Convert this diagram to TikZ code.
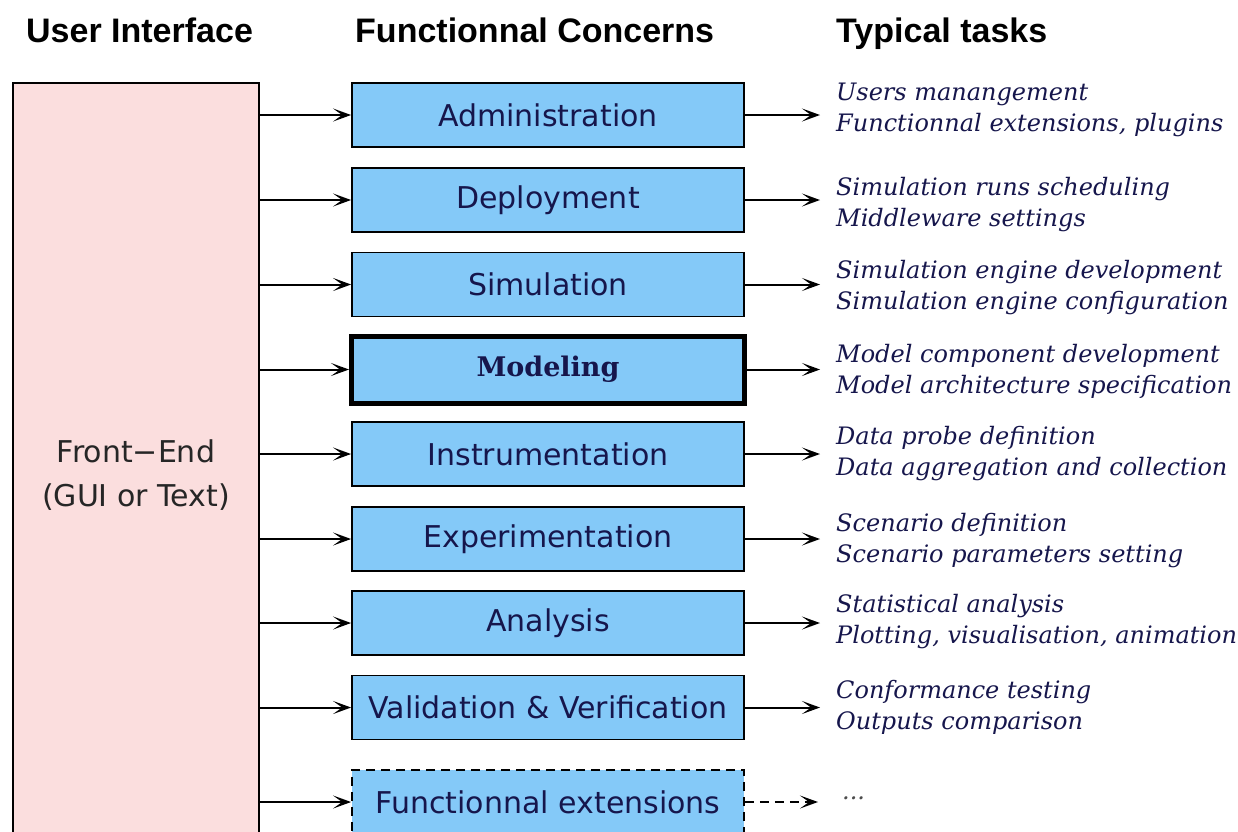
\documentclass[tikz,border=0pt]{standalone}
\usepackage{fontspec}
\setmainfont{DejaVu Sans}
\newfontfamily\taskfont{DejaVu Serif}
\newfontfamily\headfont{Liberation Sans}
\usetikzlibrary{arrows.meta}
\definecolor{concernblue}{HTML}{84C9F8}
\definecolor{uipink}{HTML}{FBDEDE}
\definecolor{inkblue}{HTML}{16164C}

\begin{document}
\begin{tikzpicture}[x=1pt,y=-1pt,
  header/.style={font=\fontsize{34}{40}\selectfont\headfont\bfseries, anchor=base west, inner sep=0},
  concern/.style={draw, line width=1.8pt, fill=concernblue, minimum width=392pt,
    minimum height=64pt, inner sep=0, text=inkblue, font=\fontsize{30}{36}\selectfont},
  tasks/.style={anchor=west, align=left, text=inkblue, inner sep=0,
    font=\fontsize{24}{31}\selectfont\taskfont\itshape},
  link/.style={line width=2pt, -{Stealth[length=18pt,width=13pt,inset=9pt]}},
  outlink/.style={link, shorten >=16pt},
]
\useasboundingbox (0,0) rectangle (1238,831);
\clip (0,0) rectangle (1238,831);
\fill[white] (0,0) rectangle (1238,831);

% column headers
\node[header] (hui) at (26,42) {User Interface};
\node[header] (hfc) at (355,42) {Functionnal Concerns};
\node[header] (htt) at (836,42) {Typical tasks};

% front-end column
\node[draw, line width=1.8pt, fill=uipink, minimum width=246pt, minimum height=800pt,
  anchor=north west, inner sep=0] (ui) at (12,82) {};
\node[align=center, inner sep=0, text=black!85, font=\fontsize{30}{44}\selectfont] (uilabel)
  at (136,475) {Front−End\\(GUI or Text)};

% functional concerns
\node[concern] (adm) at (548,115) {Administration};
\node[concern] (dep) at (548,200) {Deployment};
\node[concern] (sim) at (548,284.5) {Simulation};
\node[concern, line width=5pt, minimum width=393pt, minimum height=67pt,
  font=\fontsize{27}{30}\selectfont\taskfont\bfseries] (mod) at (548,369.5) {Modeling};
\node[concern] (ins) at (548,454) {Instrumentation};
\node[concern] (exp) at (548,539) {Experimentation};
\node[concern] (ana) at (548,623) {Analysis};
\node[concern] (val) at (548,707.5) {Validation \& Verification};
\node[concern, dashed, dash pattern=on 9pt off 6pt] (ext) at (548,802) {Functionnal extensions};

% typical tasks
\node[tasks] (tadm) at (836,110) {Users manangement\\Functionnal extensions, plugins};
\node[tasks] (tdep) at (836,205) {Simulation runs scheduling\\Middleware settings};
\node[tasks] (tsim) at (836,288) {Simulation engine development\\Simulation engine configuration};
\node[tasks] (tmod) at (836,371.5) {Model component development\\Model architecture specification};
\node[tasks] (tins) at (836,454) {Data probe definition\\Data aggregation and collection};
\node[tasks] (texp) at (836,541) {Scenario definition\\Scenario parameters setting};
\node[tasks] (tana) at (836,622) {Statistical analysis\\Plotting, visualisation, animation};
\node[tasks] (tval) at (836,707) {Conformance testing\\Outputs comparison};
\node[tasks, text=black!70] (text) at (842,798) {...};

% front-end to concerns
\foreach \c in {adm,dep,sim,mod,ins,exp,ana,val,ext}
  \draw[link] (ui.east |- \c.west) -- (\c.west);

% concerns to tasks
\draw[outlink] (adm.east) -- (adm.east -| tadm.west);
\draw[outlink] (dep.east) -- (dep.east -| tdep.west);
\draw[outlink] (sim.east) -- (sim.east -| tsim.west);
\draw[outlink] (mod.east) -- (mod.east -| tmod.west);
\draw[outlink] (ins.east) -- (ins.east -| tins.west);
\draw[outlink] (exp.east) -- (exp.east -| texp.west);
\draw[outlink] (ana.east) -- (ana.east -| tana.west);
\draw[outlink] (val.east) -- (val.east -| tval.west);
\draw[link, dashed, dash pattern=on 9pt off 6pt, shorten >=24pt] (ext.east) -- (ext.east -| text.west);
\end{tikzpicture}
\end{document}
